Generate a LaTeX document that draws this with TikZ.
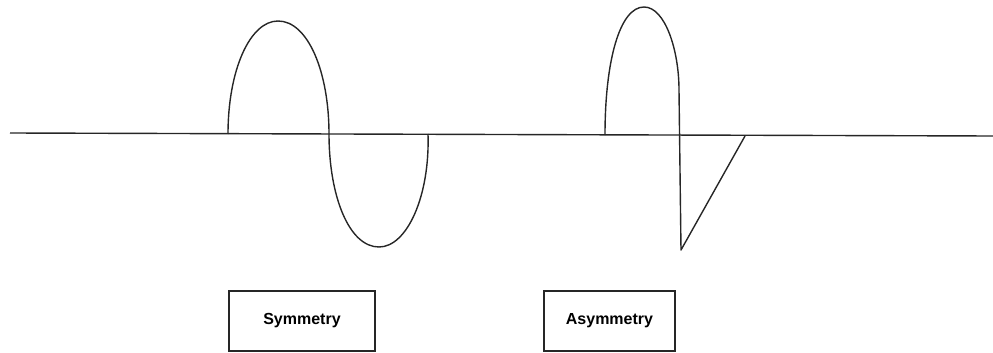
\documentclass[tikz,border=0pt]{standalone}
\usepackage{fontspec}
\setmainfont{Liberation Sans}
\begin{document}
\begin{tikzpicture}[x=1pt,y=-1pt,
  wave/.style={draw=black!85,line width=1.4pt,line join=round},
  label/.style={draw=black!85,line width=1.1pt,minimum width=146pt,minimum height=60pt,font=\bfseries\fontsize{16}{19}\selectfont,inner sep=0pt}]
\useasboundingbox (0,0) rectangle (993,353);
\coordinate (L) at (10,133);
\coordinate (R) at (993,136);
\draw[wave] (L) -- (R);
% symmetric wave
\coordinate (s0) at (228,134);
\coordinate (s1) at (278,21);
\coordinate (s2) at (329,134);
\coordinate (s3) at (379,247);
\coordinate (s4) at (428,134);
\draw[wave] (s0) .. controls (228,70) and (250,21) .. (s1)
  .. controls (308,21) and (329,72) .. (s2)
  .. controls (329,196) and (349,247) .. (s3)
  .. controls (407,247) and (430,196) .. (s4);
% asymmetric wave
\coordinate (a0) at (605,135);
\coordinate (a1) at (644,7);
\coordinate (a2) at (679,90);
\coordinate (a3) at (681,250);
\coordinate (a4) at (745,136);
\draw[wave] (a0) .. controls (605,60) and (620,7) .. (a1)
  .. controls (665,7) and (679,50) .. (a2) -- (a3) -- (a4);
\node[label] (sym) at (302,321) {Symmetry};
\node[label,minimum width=131pt] (asym) at (609.5,321) {Asymmetry};
\end{tikzpicture}
\end{document}
